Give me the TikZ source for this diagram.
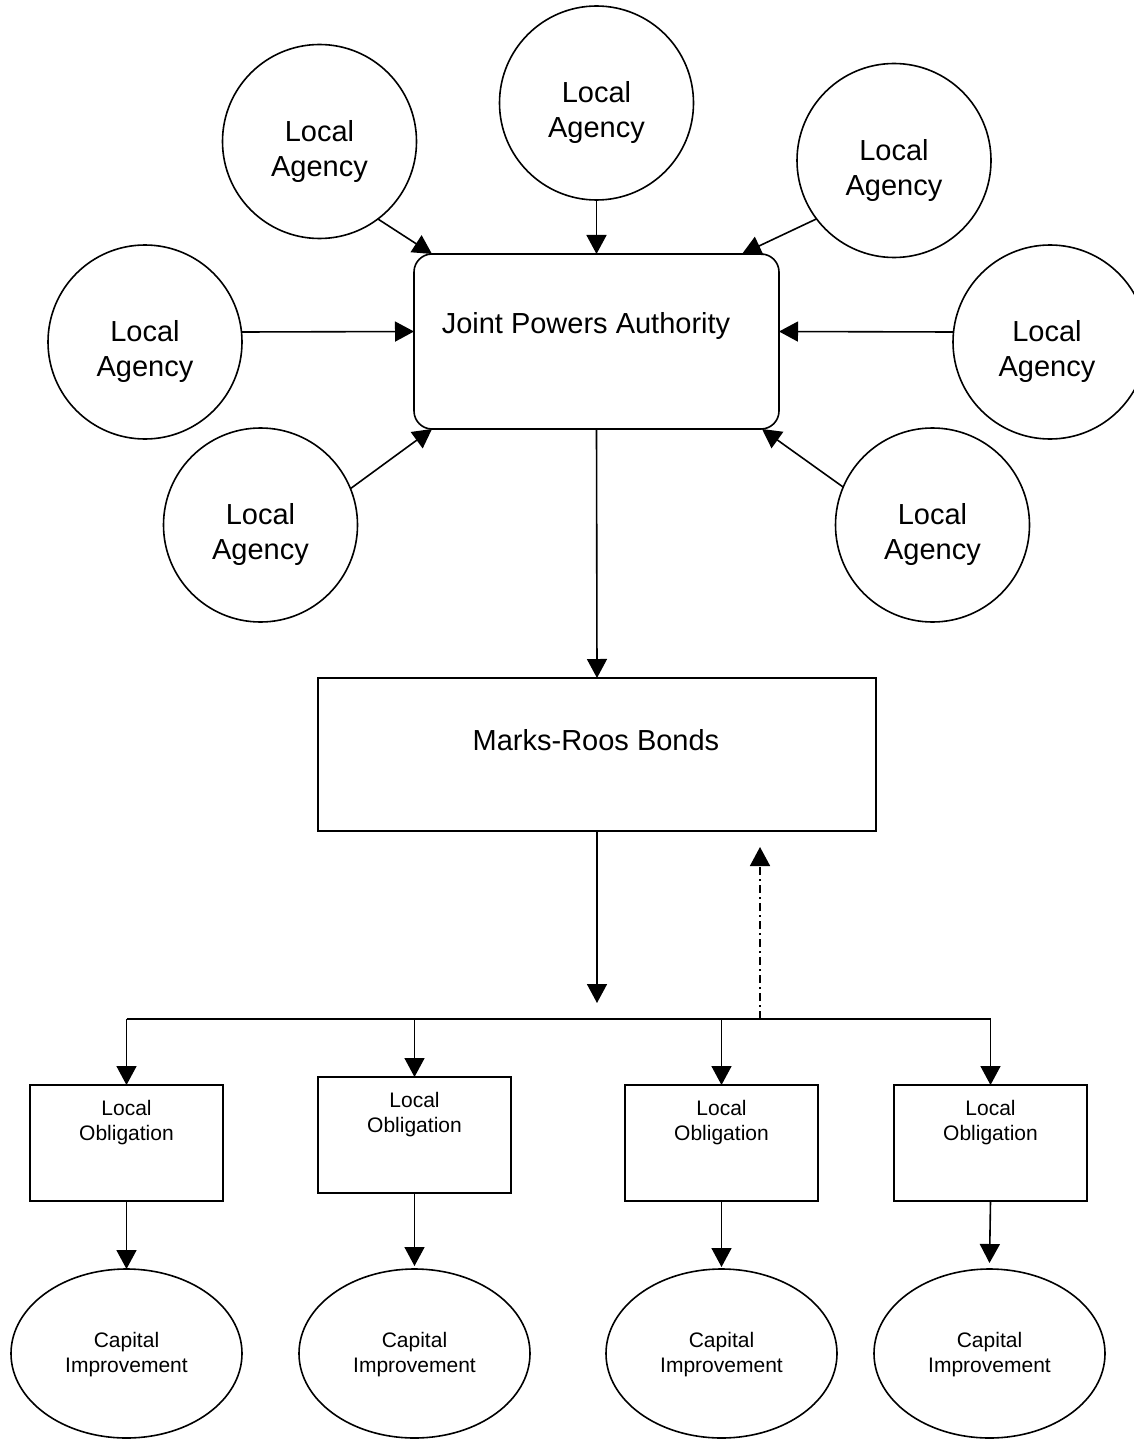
\documentclass[tikz,border=0pt]{standalone}
\usepackage{fontspec}
\setmainfont{Liberation Sans}
\usetikzlibrary{arrows.meta,shapes.geometric}
\begin{document}
\begin{tikzpicture}[x=1pt,y=-1pt,
  every node/.style={inner sep=0pt, outer sep=0pt},
  ln/.style={line width=1.6pt},
  arr/.style={ln, -{Triangle[length=19pt,width=20pt]}},
  dasharr/.style={arr, dash pattern=on 8pt off 4pt on 2pt off 4pt},
  agency/.style={circle, draw, line width=1.6pt, minimum size=194pt},
  jpabox/.style={rectangle, draw, line width=1.6pt, rounded corners=18pt, minimum width=365pt, minimum height=175pt},
  mrbox/.style={rectangle, draw, line width=1.6pt, minimum width=558pt, minimum height=153pt},
  lobox/.style={rectangle, draw, line width=1.6pt, minimum width=193pt, minimum height=116pt},
  capell/.style={ellipse, draw, line width=1.6pt, minimum width=231pt, minimum height=169pt},
  bigtxt/.style={font=\fontsize{29}{35}\selectfont, align=center},
  smalltxt/.style={font=\fontsize{21}{25}\selectfont, align=center}
]
\useasboundingbox (0,0) rectangle (1134,1439);

% Local agencies
\node[agency] (A1) at (319.5,141.5) {};
\node[agency] (A2) at (596.5,103) {};
\node[agency] (A3) at (894,160.5) {};
\node[agency] (A4) at (145,342) {};
\node[agency] (A5) at (1050,342) {};
\node[agency] (A6) at (260.5,525) {};
\node[agency] (A7) at (932.5,525) {};
\node[bigtxt, anchor=north] (T1) at (319.5,120) {Local\\Agency};
\node[bigtxt, anchor=north] (T2) at (596.5,81) {Local\\Agency};
\node[bigtxt, anchor=north] (T3) at (894,139) {Local\\Agency};
\node[bigtxt, anchor=north] (T4) at (145,320) {Local\\Agency};
\node[bigtxt, anchor=north] (T5) at (1047,320) {Local\\Agency};
\node[bigtxt, anchor=north] (T6) at (260.5,503) {Local\\Agency};
\node[bigtxt, anchor=north] (T7) at (932.5,503) {Local\\Agency};

% Joint Powers Authority
\node[jpabox] (jpa) at (596.5,341.5) {};
\node[bigtxt, anchor=base] (jpat) at (586,333) {Joint Powers Authority};

% Marks-Roos Bonds
\node[mrbox] (mr) at (597,754.5) {};
\node[bigtxt, anchor=base] (mrt) at (596,750) {Marks-Roos Bonds};

% Local obligations
\node[lobox] (L1) at (126.5,1143) {};
\node[lobox] (L2) at (414.5,1135) {};
\node[lobox] (L3) at (721.5,1143) {};
\node[lobox] (L4) at (990.5,1143) {};
\node[smalltxt, anchor=north] (LT1) at (126.5,1100) {Local\\Obligation};
\node[smalltxt, anchor=north] (LT2) at (414.5,1092) {Local\\Obligation};
\node[smalltxt, anchor=north] (LT3) at (721.5,1100) {Local\\Obligation};
\node[smalltxt, anchor=north] (LT4) at (990.5,1100) {Local\\Obligation};

% Capital improvements
\node[capell] (C1) at (126.5,1353.5) {};
\node[capell] (C2) at (414.5,1353.5) {};
\node[capell] (C3) at (721.5,1353.5) {};
\node[capell] (C4) at (989.5,1353.5) {};
\node[smalltxt, anchor=north] (CT1) at (126.5,1332) {Capital\\Improvement};
\node[smalltxt, anchor=north] (CT2) at (414.5,1332) {Capital\\Improvement};
\node[smalltxt, anchor=north] (CT3) at (721.5,1332) {Capital\\Improvement};
\node[smalltxt, anchor=north] (CT4) at (989.5,1332) {Capital\\Improvement};

% connector end points
\coordinate (jtl) at ([xshift=18pt]jpa.north west);
\coordinate (jtr) at ([xshift=-37pt]jpa.north east);
\coordinate (jbl) at ([xshift=18pt]jpa.south west);
\coordinate (jbr) at ([xshift=-17pt]jpa.south east);
\coordinate (mrend) at (597,1003);
\coordinate (busw) at (126.5,1019);
\coordinate (buse) at (990.5,1019);
\coordinate (dstart) at (760,1019);
\coordinate (dend) at (760,847);

% agencies to JPA
\draw[arr] (A1.-53) -- (jtl);
\draw[arr] (A2.south) -- (jpa.north);
\draw[arr] (A3.-143.6) -- (jtr);
\draw[arr] ([yshift=10pt]A4.east) -- ([yshift=10pt]jpa.west);
\draw[arr] ([yshift=10pt]A5.west) -- ([yshift=10pt]jpa.east);
\draw[arr] (A6.22.5) -- (jbl);
\draw[arr] (A7.157.3) -- (jbr);

% JPA to bonds
\draw[arr] (jpa.south) -- (mr.north);
\draw[arr] (mr.south) -- (mrend);

% bus
\draw[ln] (busw) -- (buse);
\draw[arr] (L1.north |- busw) -- (L1.north);
\draw[arr] (L2.north |- busw) -- (L2.north);
\draw[arr] (L3.north |- busw) -- (L3.north);
\draw[arr] (L4.north |- busw) -- (L4.north);
\draw[dasharr] (dstart) -- (dend);

% obligations to improvements
\draw[arr] (L1.south) -- (C1.north);
\draw[arr] (L2.south) -- ([yshift=3pt]C2.north);
\draw[arr] (L3.south) -- ([yshift=2pt]C3.north);
\draw[arr] (L4.south) -- ([yshift=6pt]C4.north);
\end{tikzpicture}
\end{document}
